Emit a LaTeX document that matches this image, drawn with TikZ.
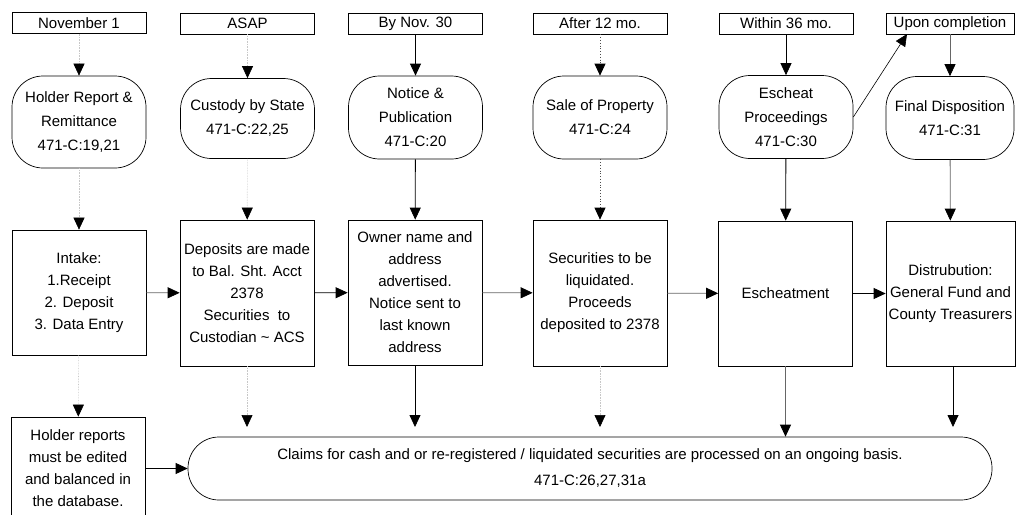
\documentclass[tikz,border=0pt]{standalone}
\usepackage{fontspec}
\setmainfont{Liberation Sans}
\usetikzlibrary{arrows.meta}
\begin{document}
\begin{tikzpicture}[x=1pt,y=-1pt,
  every node/.style={font=\fontsize{15}{22}\selectfont, inner sep=0pt, align=center},
  hdr/.style={draw, line width=0.7pt, minimum width=134pt, minimum height=21pt},
  rnd/.style={draw, line width=0.7pt, rounded corners=31pt, minimum width=134pt, minimum height=83pt, font=\fontsize{15}{24}\selectfont},
  box/.style={draw, line width=0.7pt, minimum width=134pt, minimum height=145pt},
  arr/.style={line width=0.8pt, -{Triangle[length=12pt,width=11pt]}},
  faint/.style={line width=0.6pt, draw=black!22, densely dotted, -{Triangle[length=12pt,width=11pt,color=black]}},
  dotarr/.style={line width=0.8pt, draw=black!70, dotted, -{Triangle[length=12pt,width=11pt,color=black]}},
  grayarr/.style={line width=0.8pt, draw=black!60, -{Triangle[length=12pt,width=11pt,color=black]}}
]
\useasboundingbox (0,0) rectangle (1017,514);

% header row
\node[hdr] (h1) at (79,23) {November 1};
\node[hdr] (h2) at (247.5,23.5) {ASAP};
\node[hdr] (h3) at (415.5,23.5) {By Nov. 30};
\node[hdr] (h4) at (600,23.5) {After 12 mo.};
\node[hdr] (h5) at (786,23.5) {Within 36 mo.};
\node[hdr, minimum width=128pt] (h6) at (950,23.5) {Upon completion};

% rounded row
\node[rnd, minimum height=92pt] (r1) at (79,122) {Holder Report \&\\Remittance\\471-C:19,21};
\node[rnd, minimum height=80pt] (r2) at (247.5,118.5) {Custody by State\\471-C:22,25};
\node[rnd] (r3) at (415.5,117.5) {Notice \&\\Publication\\471-C:20};
\node[rnd] (r4) at (600,117.5) {Sale of Property\\471-C:24};
\node[rnd] (r5) at (786,117) {Escheat\\Proceedings\\471-C:30};
\node[rnd, minimum width=128pt] (r6) at (950,118) {Final Disposition\\471-C:31};

% middle row
\node[box, minimum height=125pt] (m1) at (79,292.5) {Intake:\\1.Receipt\\2. Deposit\\3. Data Entry};
\node[box, minimum height=146pt] (m2) at (247,293) {Deposits are made\\to Bal. Sht. Acct\\2378\\Securities\ \ to\\Custodian \textasciitilde\ ACS};
\node[box] (m3) at (415,292.5) {Owner name and\\address\\advertised.\\Notice sent to\\last known\\address};
\node[box, minimum height=146pt] (m4) at (600,293) {Securities to be\\liquidated.\\Proceeds\\deposited to 2378};
\node[box] (m5) at (785.5,293.5) {Escheatment};
\node[box, minimum width=129pt] (m6) at (950.5,293.5) {Distrubution:\\General Fund and\\County Treasurers};

% bottom row
\node[box, minimum height=103pt] (b1) at (78,468.5) {Holder reports\\must be edited\\and balanced in\\the database.};
\node[draw, line width=0.7pt, rounded corners=31pt, minimum width=804pt, minimum height=63pt,
      font=\fontsize{15}{26}\selectfont] (c) at (590,468.5)
  {Claims for cash and or re-registered / liquidated securities are processed on an ongoing basis.\\471-C:26,27,31a};

% free ends
\coordinate (e2) at (247,427);
\coordinate (e3) at (415,427);
\coordinate (e4) at (600,427);
\coordinate (e6) at (953,427);
\coordinate (u6) at (907,34);

% header -> rounded
\draw[faint] (h1) -- (r1);
\draw[faint] (h2) -- (r2);
\draw[arr] (h3) -- (r3);
\draw[dotarr] (h4) -- (r4);
\draw[arr] (h5) -- (r5);
\draw[grayarr] (h6) -- (r6);

% rounded -> middle
\draw[faint] (r1) -- (m1);
\draw[faint] (r2) -- (m2);
\draw[arr] (r3) -- (m3);
\draw[dotarr] (r4) -- (m4);
\draw[arr] (r5) -- (m5);
\draw[grayarr] (r6) -- (m6);

% middle -> bottom
\draw[faint] (m1) -- (b1);
\draw[faint] (m2) -- (e2);
\draw[arr] (m3) -- (e3);
\draw[faint] (m4) -- (e4);
\draw[grayarr] (m5.south) -- (m5.south |- c.north);
\draw[arr] (m6.south -| e6) -- (e6);

% horizontal
\draw[grayarr] (m1) -- (m2);
\draw[arr] (m2) -- (m3);
\draw[grayarr] (m3) -- (m4);
\draw[grayarr] (m4) -- (m5);
\draw[arr] (m5) -- (m6);
\draw[arr] (b1.east |- c) -- (c);

% diagonal
\draw[arr, line width=0.6pt] (r5.east) -- (u6);
\end{tikzpicture}
\end{document}
